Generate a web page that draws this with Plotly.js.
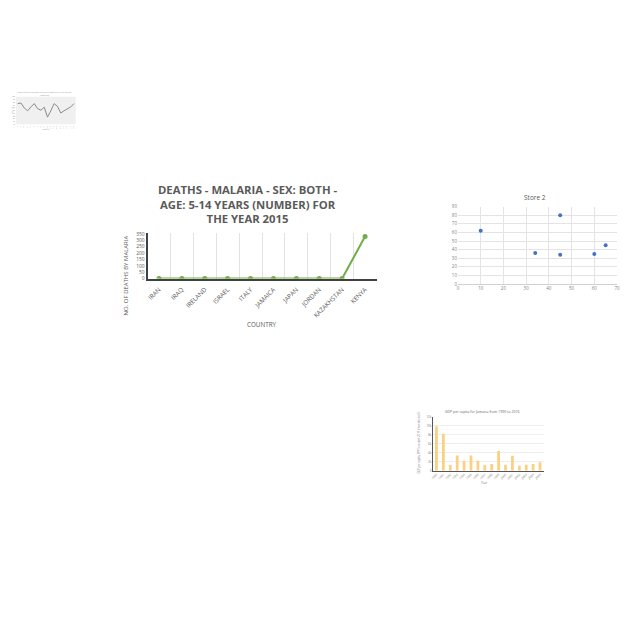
<!DOCTYPE html>
<html>
<head>
<meta charset="utf-8">
<script src="https://cdn.plot.ly/plotly-3.0.1.min.js"></script>
<style>html,body{margin:0;padding:0;background:#fff;}#chart{width:640px;height:640px;}</style>
</head>
<body>
<div id="chart"></div>
<script>
// Main chart data
const countries = ["IRAN","IRAQ","IRELAND","ISRAEL","ITALY","JAMAICA","JAPAN","JORDAN","KAZAKHSTAN","KENYA"];
const malariaDeaths = [0,0,0,0,0,0,0,0,0,330];

// Store 2 scatter data
const store2X = [10,34,45,45,60,65];
const store2Y = [62,36,80,34,35,45];

// GDP bar chart data
const gdpYears = ["1990","1991","1992","1993","1994","1995","1996","1997","1998","1999","2000","2001","2002","2003","2004","2005"];
const gdpValues = [9900,8200,1250,3350,2200,3350,2200,1250,1500,4400,1300,3300,1100,1300,1500,1900];

// Tiny line chart data
const tinyX = [1,2,3,4,5,6,7,8,9,10,11,12,13,14,15,16,17,18];
const tinyY = [75,77,59,49,63,75,57,51,62,26,49,75,65,41,49,55,63,75];

const W = 640, H = 640;
const px = v => v / W;
const py = v => 1 - v / H;

const grey = "#595959";
const F = "Open Sans, sans-serif";

const traces = [
  {
    type: "scatter", mode: "lines+markers",
    x: countries, y: malariaDeaths, xaxis: "x", yaxis: "y",
    line: {color: "#70AD47", width: 2},
    marker: {color: "#70AD47", size: 5}
  },
  {
    type: "scatter", mode: "markers",
    x: store2X, y: store2Y, xaxis: "x2", yaxis: "y2",
    marker: {color: "#4472C4", size: 4}
  },
  {
    type: "bar",
    x: gdpYears, y: gdpValues, xaxis: "x3", yaxis: "y3",
    marker: {color: "#FBD080"}, width: 0.4
  },
  {
    type: "scatter", mode: "lines",
    x: tinyX, y: tinyY, xaxis: "x4", yaxis: "y4",
    line: {color: "#8a8a8a", width: 1}
  }
];

const layout = {
  width: W, height: H,
  margin: {l: 0, r: 0, t: 0, b: 0},
  paper_bgcolor: "#ffffff", plot_bgcolor: "rgba(0,0,0,0)",
  showlegend: false,
  font: {family: F, color: grey},
  // main
  xaxis: {
    domain: [px(147.5), px(376.5)], anchor: "y",
    type: "category", range: [-0.5, 9.5],
    tickson: "boundaries", showgrid: true, gridcolor: "#e3e3e3", gridwidth: 1,
    showline: true, linecolor: "#404040", linewidth: 2,
    ticks: "", tickangle: -45, ticklabelstandoff: 3,
    tickfont: {size: 6.3, color: grey, family: F}
  },
  yaxis: {
    domain: [py(278.5), py(233)], anchor: "x",
    range: [0, 350 * (45.5/44.5)], tickvals: [0,50,100,150,200,250,300,350],
    showgrid: false, zeroline: false,
    showline: true, linecolor: "#404040", linewidth: 2,
    ticks: "", tickfont: {size: 4.9, color: grey, family: F}
  },
  // Store 2
  xaxis2: {
    domain: [px(458), px(617)], anchor: "y2",
    range: [0, 70], dtick: 10,
    showgrid: true, gridcolor: "#e4e4e4", zeroline: false,
    showline: false, ticks: "",
    tickfont: {size: 4.5, color: "#7f7f7f", family: F}
  },
  yaxis2: {
    domain: [py(284), py(206.7)], anchor: "x2",
    range: [0, 90], dtick: 10,
    showgrid: true, gridcolor: "#e4e4e4", zeroline: true, zerolinecolor: "#d0d0d0",
    showline: false, ticks: "",
    tickfont: {size: 4.5, color: "#7f7f7f", family: F}
  },
  // GDP bars
  xaxis3: {
    domain: [px(433), px(543.5)], anchor: "y3",
    type: "category", range: [-0.5, 15.5],
    showline: true, linecolor: "#555", linewidth: 1,
    ticks: "", tickangle: -45,
    tickfont: {size: 3, color: "#777", family: F}
  },
  yaxis3: {
    domain: [py(470.7), py(416.7)], anchor: "x3",
    range: [0, 12000], dtick: 2000,
    showgrid: true, gridcolor: "#eeeeee", zeroline: false,
    showline: true, linecolor: "#555", linewidth: 1,
    ticks: "", tickfont: {size: 3, color: "#777", family: F}
  },
  // tiny line
  xaxis4: {
    domain: [px(16), px(75.7)], anchor: "y4",
    range: [0.5, 18.5], showgrid: false, zeroline: false,
    showline: false, ticks: "",
    tickvals: tinyX, tickfont: {size: 2, color: "#999", family: F}
  },
  yaxis4: {
    domain: [py(124.3), py(96.7)], anchor: "x4",
    range: [0, 100], dtick: 10, showgrid: false, zeroline: false,
    showline: false, ticks: "",
    tickfont: {size: 2, color: "#999", family: F}
  },
  shapes: [
    {type: "rect", xref: "x4 domain", yref: "y4 domain", x0: 0, x1: 1, y0: 0, y1: 1,
     fillcolor: "#f0f0f0", line: {width: 0}, layer: "below"}
  ],
  annotations: [
    {text: "DEATHS - MALARIA - SEX: BOTH -<br>AGE: 5-14 YEARS (NUMBER) FOR<br>THE YEAR 2015",
     xref: "paper", yref: "paper", x: px(247.5), y: py(203.5), xanchor: "center", yanchor: "middle",
     showarrow: false, font: {size: 11.3, color: "#5a5a5a", family: F, weight: 700}},
    {text: "NO. OF DEATHS BY MALARIA", xref: "paper", yref: "paper",
     x: px(125.5), y: py(276), textangle: -90, xanchor: "center", yanchor: "middle",
     showarrow: false, font: {size: 6, color: grey, family: F}},
    {text: "COUNTRY", xref: "paper", yref: "paper", x: px(262), y: py(324),
     xanchor: "center", yanchor: "middle", showarrow: false,
     font: {size: 6.3, color: grey, family: F}},
    {text: "Store 2", xref: "paper", yref: "paper", x: px(535), y: py(198),
     xanchor: "center", yanchor: "middle", showarrow: false,
     font: {size: 6.5, color: grey, family: F}},
    {text: "GDP per capita for Jamaica from 1990 to 2016", xref: "paper", yref: "paper",
     x: px(482), y: py(411), xanchor: "center", yanchor: "middle", showarrow: false,
     font: {size: 3.5, color: "#666", family: F}},
    {text: "GDP per capita, PPP (constant 2011 international $)", xref: "paper", yref: "paper",
     x: px(418.5), y: py(443), textangle: -90, xanchor: "center", yanchor: "middle", showarrow: false,
     font: {size: 2.6, color: "#777", family: F}},
    {text: "Year", xref: "paper", yref: "paper", x: px(484), y: py(483),
     xanchor: "center", yanchor: "middle", showarrow: false,
     font: {size: 3, color: "#777", family: F}},
    {text: "Evolution of average rating of products in the period<br>(months)", xref: "paper", yref: "paper",
     x: px(45), y: py(93.5), xanchor: "center", yanchor: "middle", showarrow: false,
     font: {size: 2.2, color: "#999", family: F}},
    {text: "Rating", xref: "paper", yref: "paper", x: px(11.5), y: py(110), textangle: -90,
     xanchor: "center", yanchor: "middle", showarrow: false,
     font: {size: 2.2, color: "#999", family: F}},
    {text: "Month", xref: "paper", yref: "paper", x: px(45), y: py(129),
     xanchor: "center", yanchor: "middle", showarrow: false,
     font: {size: 2.2, color: "#999", family: F}}
  ]
};

Plotly.newPlot("chart", traces, layout, {displayModeBar: false, staticPlot: true});
</script>
</body>
</html>
